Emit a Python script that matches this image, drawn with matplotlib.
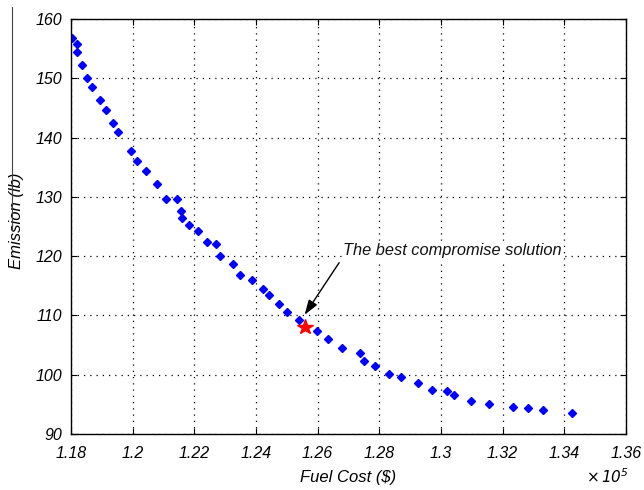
import matplotlib
matplotlib.use('Agg')
import matplotlib.pyplot as plt
from matplotlib.ticker import FuncFormatter, MultipleLocator
from matplotlib.lines import Line2D

# Pareto front (fuel cost in $, emission in lb)
fuel_cost = [118050, 118190, 118190, 118360, 118530, 118690, 118930, 119130,
             119380, 119540, 119940, 120160, 120440, 120780, 121100, 121450,
             121580, 121620, 121830, 122120, 122410, 122710, 122840, 123250,
             123470, 123870, 124220, 124410, 124740, 125020, 125390, 125970,
             126330, 126790, 127380, 127510, 127860, 128330, 128700, 129270,
             129710, 130200, 130410, 130980, 131550, 132330, 132830, 133310,
             134250]
emission = [156.8, 155.7, 154.4, 152.2, 150.0, 148.5, 146.4, 144.7,
            142.4, 140.9, 137.8, 136.0, 134.4, 132.1, 129.7, 129.6,
            127.6, 126.5, 125.3, 124.2, 122.3, 122.0, 120.1, 118.6,
            116.9, 115.9, 114.4, 113.4, 111.9, 110.6, 109.3, 107.4,
            106.1, 104.5, 103.6, 102.3, 101.5, 100.2, 99.6, 98.6,
            97.5, 97.3, 96.6, 95.6, 95.1, 94.5, 94.3, 94.1,
            93.6]

best_cost = 125600
best_emission = 108.1

label_txt = 'The best compromise solution'
text_pos = (126820, 120.9)
arrow_tail = (126700, 118.9)
arrow_head = (125580, 110.1)

plt.rcParams['font.family'] = ['Liberation Sans', 'DejaVu Sans']
plt.rcParams['font.style'] = 'italic'

fig = plt.figure(figsize=(6.44, 4.90), dpi=100)
ax = fig.add_axes([0.110, 0.1143, 0.862, 0.847])

ax.plot(fuel_cost, emission, linestyle='none', marker='D', markersize=3.6,
        color='#0000ff', markeredgecolor='#0000ff')
ax.plot([best_cost], [best_emission], linestyle='none', marker='*',
        markersize=11.5, color='red', markeredgecolor='red')

ax.annotate('', xy=arrow_head, xytext=arrow_tail,
            arrowprops=dict(arrowstyle='-|>,head_length=0.9,head_width=0.3',
                            color='black', lw=1.0, shrinkA=0, shrinkB=0))
ax.text(text_pos[0], text_pos[1], label_txt, fontsize=11.8, va='center',
        ha='left', style='italic', color='#111111',
        bbox=dict(facecolor='white', edgecolor='none', pad=1))

ax.set_xlim(118000, 136000)
ax.set_ylim(90, 160)
ax.xaxis.set_major_locator(MultipleLocator(2000))
ax.yaxis.set_major_locator(MultipleLocator(10))
ax.xaxis.set_major_formatter(FuncFormatter(lambda v, p: '%g' % round(v / 1e5, 2)))

ax.grid(True, linestyle=(0, (1, 4)), color='black', linewidth=0.9)
ax.tick_params(direction='in', top=True, right=True, labelsize=11.5,
               length=4, width=0.8, colors='black')
ax.tick_params(axis='x', pad=9)
ax.tick_params(axis='y', pad=6)
for lab in ax.get_xticklabels() + ax.get_yticklabels():
    lab.set_style('italic')
for s in ax.spines.values():
    s.set_linewidth(1.0)

ax.set_xlabel('Fuel Cost ($)', fontsize=12, style='italic')
ax.set_ylabel('Emission (lb)', fontsize=12, style='italic')
ax.xaxis.set_label_coords(0.499, -0.106)
ax.yaxis.set_label_coords(-0.097, 0.513)
ax.xaxis.label.set_va('center')
ax.yaxis.label.set_va('center')

fig.text(0.91, 0.008, r'$\mathit{\times\,10^5}$', fontsize=11, ha='left', va='bottom')

# thin scan edge line at the far left
fig.add_artist(Line2D([0.0186, 0.0186], [0.53, 0.985], color='#444444', lw=0.8))

fig.savefig('out.png', dpi=100)
